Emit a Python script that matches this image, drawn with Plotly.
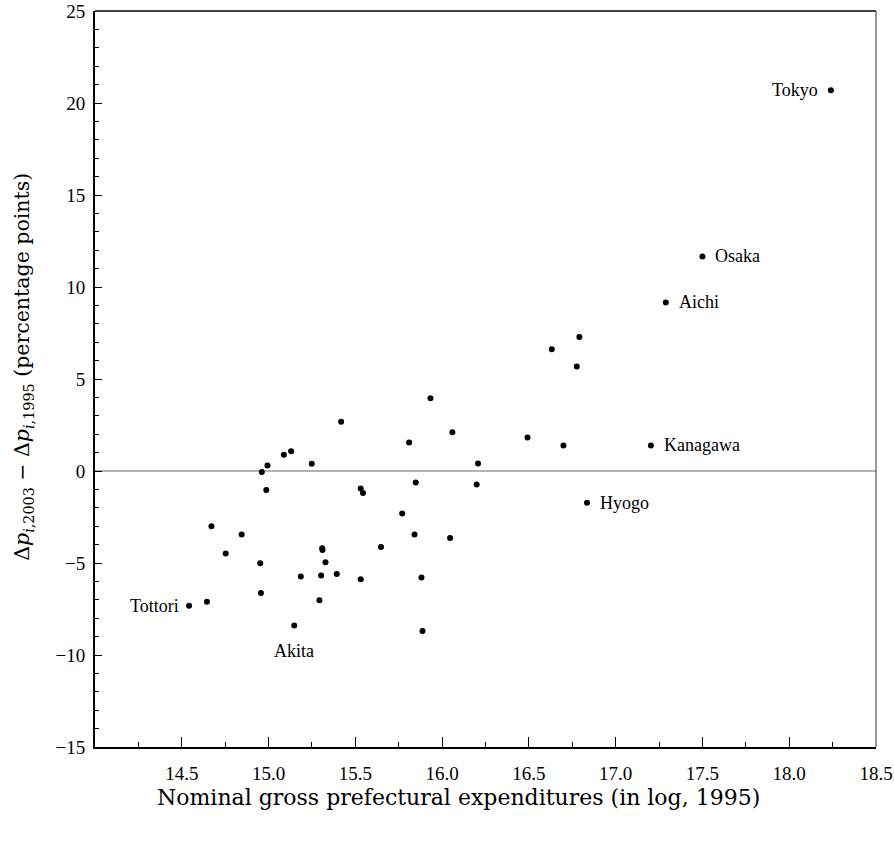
import plotly.graph_objects as go

# Nominal gross prefectural expenditures (log, 1995)
x_vals = [
    18.240, 17.500, 17.289, 17.203, 16.835, 14.542, 15.148,
    15.418, 15.088, 15.130, 15.249, 14.961, 14.994, 14.987,
    14.671, 14.845, 14.753, 14.952, 14.956, 14.645, 15.186,
    15.293, 15.303, 15.309, 15.311, 15.328, 15.393,
    15.933, 15.810, 16.059, 16.207, 16.199, 15.848, 15.531,
    15.544, 15.770, 15.841, 16.046, 15.648, 15.531, 15.881,
    15.887, 16.791, 16.632, 16.776, 16.492, 16.699,
]
# Change in price gap (percentage points)
y_vals = [
    20.69, 11.66, 9.16, 1.39, -1.73, -7.33, -8.40,
    2.67, 0.88, 1.08, 0.39, -0.05, 0.30, -1.03,
    -3.00, -3.45, -4.49, -5.01, -6.63, -7.10, -5.74,
    -7.03, -5.68, -4.20, -4.30, -4.96, -5.60,
    3.96, 1.55, 2.11, 0.41, -0.73, -0.63, -0.95,
    -1.19, -2.31, -3.45, -3.64, -4.13, -5.88, -5.79,
    -8.69, 7.28, 6.62, 5.68, 1.82, 1.39,
]
# Labelled prefectures (index into the arrays above)
label_names = ["Tokyo", "Osaka", "Aichi", "Kanagawa", "Hyogo", "Tottori", "Akita"]
label_index = [0, 1, 2, 3, 4, 5, 6]

x_tickvals = [14.5, 15.0, 15.5, 16.0, 16.5, 17.0, 17.5, 18.0, 18.5]
x_ticktext = ["14.5", "15.0", "15.5", "16.0", "16.5", "17.0", "17.5", "18.0", "18.5"]
y_tickvals = [-15, -10, -5, 0, 5, 10, 15, 20, 25]
reference_y = 0

# label placement styles
label_style = {
    "Tokyo": dict(xanchor="right", xshift=-11, yshift=0),
    "Osaka": dict(xanchor="left", xshift=11, yshift=0),
    "Aichi": dict(xanchor="left", xshift=11, yshift=0),
    "Kanagawa": dict(xanchor="left", xshift=11, yshift=0),
    "Hyogo": dict(xanchor="left", xshift=11, yshift=0),
    "Tottori": dict(xanchor="right", xshift=-8, yshift=0),
    "Akita": dict(xanchor="center", xshift=0, yshift=-25),
}

SERIF = "Liberation Serif"
TITLE_FONT = "DejaVu Serif"

fig = go.Figure()
fig.add_trace(go.Scatter(
    x=x_vals, y=y_vals, mode="markers",
    marker=dict(symbol="circle", size=6, color="black", line=dict(width=0)),
    showlegend=False, hoverinfo="skip",
))

annotations = []
for name, idx in zip(label_names, label_index):
    st = label_style[name]
    annotations.append(dict(
        x=x_vals[idx], y=y_vals[idx], xref="x", yref="y", text=name,
        showarrow=False, yanchor="middle",
        font=dict(family=SERIF, size=18, color="black"), **st,
    ))

# axis titles
annotations.append(dict(
    x=0.466, y=-0.068, xref="paper", yref="paper",
    text="Nominal gross prefectural expenditures (in log, 1995)",
    showarrow=False, xanchor="center", yanchor="middle",
    font=dict(family=TITLE_FONT, size=22, color="black"),
))
annotations.append(dict(
    x=-0.0915, y=0.516, xref="paper", yref="paper",
    text="Δ<i>p</i><sub><i>i</i>,2003</sub> − Δ<i>p</i><sub><i>i</i>,1995</sub> (percentage points)",
    showarrow=False, xanchor="center", yanchor="middle", textangle=-90,
    font=dict(family=TITLE_FONT, size=20.5, color="black"),
))

shapes = [
    # zero reference line
    dict(type="line", xref="paper", yref="y", x0=0, x1=1, y0=reference_y, y1=reference_y,
         line=dict(color="#9a9a9a", width=1.5), layer="below"),
    # top frame
    dict(type="line", xref="paper", yref="paper", x0=0, x1=1, y0=1, y1=1,
         line=dict(color="black", width=1.5), layer="above"),
    # right frame
    dict(type="line", xref="paper", yref="paper", x0=1, x1=1, y0=0, y1=1,
         line=dict(color="#333333", width=1), layer="above"),
]

fig.update_layout(
    template="none",
    width=894, height=846,
    margin=dict(l=95, r=18, t=11, b=99),
    paper_bgcolor="white", plot_bgcolor="white",
    font=dict(family=SERIF, size=19, color="black"),
    annotations=annotations,
    shapes=shapes,
)

fig.update_xaxes(
    automargin=False, ticklabeloverflow="allow",
    range=[14.0, 18.5], showgrid=False, zeroline=False,
    showline=True, linecolor="black", linewidth=2,
    tickmode="array", tickvals=x_tickvals, ticktext=x_ticktext,
    ticks="inside", ticklen=10, tickwidth=1.2, tickcolor="black",
    ticklabelstandoff=8,
    minor=dict(ticks="inside", ticklen=5, tickwidth=1, tickcolor="black",
               tick0=14.25, dtick=0.5, showgrid=False),
)
fig.update_yaxes(
    automargin=False, ticklabeloverflow="allow",
    range=[-15, 25], showgrid=False, zeroline=False,
    showline=True, linecolor="black", linewidth=2,
    tickmode="array", tickvals=y_tickvals,
    ticks="inside", ticklen=7, tickwidth=1.2, tickcolor="black",
    ticklabelstandoff=4,
    minor=dict(ticks="inside", ticklen=4, tickwidth=1, tickcolor="black",
               tick0=0, dtick=1, showgrid=False),
)

# remove the browser's default body margin so the figure fills the window exactly
fig.write_html(
    "out.html",
    config={"displayModeBar": False},
    post_script="document.body.style.margin='0';document.body.style.overflow='hidden';",
)
